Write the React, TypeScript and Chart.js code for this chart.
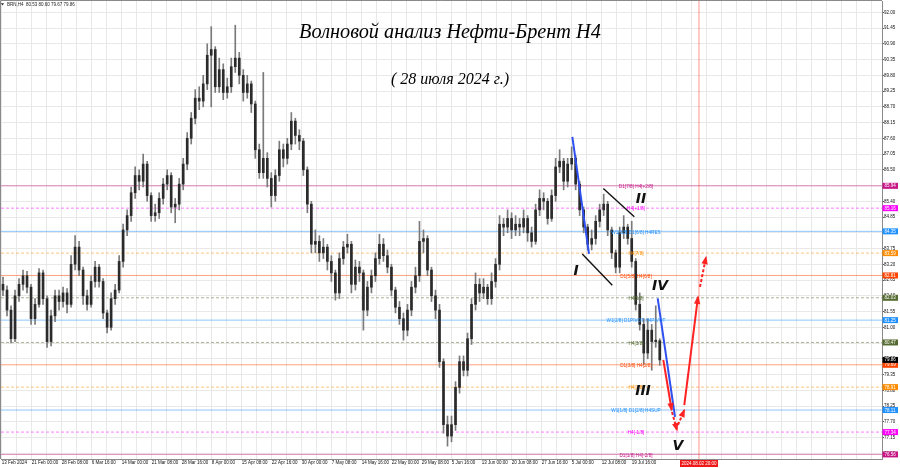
import React, { useEffect, useRef } from 'react';
import { Chart, registerables } from 'chart.js';

Chart.register(...registerables);

// ---------------- data (Brent H4 candles) ----------------
const candleOpen = [
  82.5, 82.3, 81.6, 80.6, 82.1, 82.5, 82.8, 82.4, 81.3, 81.8,
  82.9, 82.0, 80.5, 81.4, 82.1, 81.9, 82.2, 81.8, 83.2, 83.8,
  83.0, 82.1, 81.8, 82.6, 83.1, 82.6, 81.5, 81.0, 82.0, 82.3,
  83.3, 84.4, 84.9, 85.7, 86.3, 86.1, 86.7, 85.6, 84.9, 85.0,
  85.5, 86.0, 86.3, 85.2, 85.3, 86.0, 86.7, 87.6, 88.3, 89.0,
  88.9, 89.5, 90.5, 90.7, 89.4, 90.0, 89.2, 89.4, 90.1, 90.4,
  89.8, 89.2, 89.5, 88.8, 87.2, 86.4, 86.9, 86.2, 85.6, 86.3,
  87.2, 86.9, 87.4, 88.2, 87.7, 87.5, 86.5, 85.3, 83.9, 84.0,
  83.6, 83.8, 83.3, 82.9, 82.2, 83.4, 83.8, 83.9, 82.5, 83.1,
  82.9, 81.6, 82.4, 82.8, 83.4, 83.9, 83.5, 83.1, 82.3, 81.7,
  81.3, 80.9, 81.6, 82.4, 82.8, 84.0, 84.1, 83.0, 82.1, 81.6,
  79.8, 77.6, 77.2, 77.6, 78.9, 79.8, 79.5, 80.6, 81.8, 82.5,
  82.2, 82.4, 82.0, 82.6, 83.2, 84.6, 84.5, 84.8, 84.4, 84.6,
  84.5, 84.8, 84.3, 84.0, 85.1, 85.5, 85.4, 84.8, 85.6, 86.6,
  86.8, 86.1, 86.7, 86.9, 86.0, 85.1, 84.5, 83.9, 84.1, 84.7,
  85.1, 85.3, 84.4, 83.6, 83.1, 84.3, 84.5, 84.1, 83.3, 81.8,
  81.1, 80.1, 80.9, 80.5, 80.53,
];
const candleHigh = [
  82.75, 82.45, 81.75, 82.3, 82.7, 83.0, 82.95, 82.5, 82.0, 83.05,
  83.0, 82.1, 81.6, 82.3, 82.3, 82.4, 82.35, 83.5, 84.2, 84.0,
  83.1, 82.3, 82.8, 83.3, 83.2, 82.7, 81.6, 82.2, 82.5, 83.5,
  84.6, 85.1, 85.9, 86.6, 86.5, 87.05, 86.8, 85.7, 85.3, 85.7,
  86.2, 86.5, 86.4, 85.5, 86.2, 86.9, 87.8, 88.5, 89.3, 89.4,
  89.8, 90.9, 91.5, 90.8, 90.4, 90.2, 89.7, 90.4, 91.55, 90.6,
  90.0, 89.8, 89.6, 88.9, 87.4, 89.9, 87.1, 86.4, 86.5, 87.5,
  87.4, 87.6, 88.5, 88.3, 87.9, 87.6, 86.6, 85.4, 84.4, 84.2,
  84.1, 83.9, 83.5, 83.0, 83.6, 84.0, 84.25, 84.0, 83.35, 83.3,
  83.0, 82.6, 83.0, 83.6, 84.25, 84.1, 83.7, 83.2, 82.4, 81.9,
  81.5, 81.8, 82.6, 83.1, 84.7, 84.4, 84.2, 83.1, 82.3, 81.8,
  79.9, 77.9, 77.9, 79.1, 80.0, 80.0, 80.8, 82.0, 82.9, 82.7,
  82.7, 82.5, 82.9, 83.4, 84.9, 84.8, 85.1, 85.0, 84.9, 84.8,
  85.1, 84.9, 84.5, 85.3, 85.8, 85.7, 85.5, 85.8, 86.9, 87.2,
  86.9, 86.9, 87.3, 87.0, 86.1, 85.2, 84.6, 84.4, 84.9, 85.3,
  85.65, 85.4, 84.5, 83.7, 84.5, 84.9, 84.6, 84.7, 83.4, 82.2,
  81.3, 81.3, 81.1, 81.75, 80.6,
];
const candleLow = [
  82.1, 81.4, 80.45, 80.5, 81.9, 82.3, 82.2, 81.1, 81.1, 81.7,
  81.8, 80.3, 80.35, 81.2, 81.6, 81.7, 81.5, 81.7, 83.0, 82.8,
  81.8, 81.6, 81.7, 82.4, 82.4, 81.3, 80.8, 80.9, 81.8, 82.2,
  83.1, 84.2, 84.7, 85.5, 85.8, 85.9, 85.4, 84.7, 84.7, 84.8,
  85.3, 85.8, 85.0, 84.65, 85.1, 85.8, 86.5, 87.4, 88.1, 88.6,
  88.7, 89.3, 88.7, 89.2, 89.2, 88.95, 89.0, 89.2, 89.9, 89.5,
  88.9, 89.0, 88.5, 86.9, 86.2, 86.2, 85.9, 85.2, 85.4, 86.1,
  86.6, 86.7, 87.2, 87.4, 87.2, 86.3, 85.0, 83.6, 83.6, 83.3,
  83.4, 83.0, 82.6, 81.95, 82.0, 83.2, 83.6, 82.2, 82.3, 82.6,
  80.9, 81.4, 82.2, 82.6, 83.2, 83.3, 82.9, 82.1, 81.5, 81.1,
  80.55, 80.7, 81.4, 82.2, 82.6, 83.6, 82.8, 81.9, 81.3, 79.6,
  77.3, 76.85, 77.0, 77.4, 78.7, 79.3, 79.3, 80.4, 81.6, 81.9,
  82.0, 81.8, 81.8, 82.4, 83.0, 84.2, 84.3, 84.1, 84.2, 84.2,
  84.3, 84.0, 83.8, 83.9, 84.9, 85.1, 84.6, 84.7, 85.4, 86.4,
  85.8, 85.9, 86.5, 85.8, 84.9, 84.3, 83.7, 83.7, 83.9, 84.5,
  84.9, 84.2, 83.4, 82.9, 82.9, 84.1, 83.9, 83.1, 81.6, 80.9,
  79.7, 79.9, 79.5, 80.3, 79.67,
];
const candleClose = [
  82.3, 81.6, 80.6, 82.1, 82.5, 82.8, 82.4, 81.3, 81.8, 82.9,
  82.0, 80.5, 81.4, 82.1, 81.9, 82.2, 81.8, 83.2, 83.8, 83.0,
  82.1, 81.8, 82.6, 83.1, 82.6, 81.5, 81.0, 82.0, 82.3, 83.3,
  84.4, 84.9, 85.7, 86.3, 86.1, 86.7, 85.6, 84.9, 85.0, 85.5,
  86.0, 86.3, 85.2, 85.3, 86.0, 86.7, 87.6, 88.3, 89.0, 88.9,
  89.5, 90.5, 90.7, 89.4, 90.0, 89.2, 89.4, 90.1, 90.4, 89.8,
  89.2, 89.5, 88.8, 87.2, 86.4, 86.9, 86.2, 85.6, 86.3, 87.2,
  86.9, 87.4, 88.2, 87.7, 87.5, 86.5, 85.3, 83.9, 84.0, 83.6,
  83.8, 83.3, 82.9, 82.2, 83.4, 83.8, 83.9, 82.5, 83.1, 82.9,
  81.6, 82.4, 82.8, 83.4, 83.9, 83.5, 83.1, 82.3, 81.7, 81.3,
  80.9, 81.6, 82.4, 82.8, 84.0, 84.1, 83.0, 82.1, 81.6, 79.8,
  77.6, 77.2, 77.6, 78.9, 79.8, 79.5, 80.6, 81.8, 82.5, 82.2,
  82.4, 82.0, 82.6, 83.2, 84.6, 84.5, 84.8, 84.4, 84.6, 84.5,
  84.8, 84.3, 84.0, 85.1, 85.5, 85.4, 84.8, 85.6, 86.6, 86.8,
  86.1, 86.7, 86.9, 86.0, 85.1, 84.5, 83.9, 84.1, 84.7, 85.1,
  85.3, 84.4, 83.6, 83.1, 84.3, 84.5, 84.1, 83.3, 81.8, 81.1,
  80.1, 80.9, 80.5, 80.55, 79.86,
];
const totalSlots = 220; // candles + empty future slots

// time axis labels and their slot positions
const timeLabels = [
  '13 Feb 2024', '21 Feb 00:00', '28 Feb 08:00', '6 Mar 16:00', '14 Mar 00:00', '21 Mar 08:00',
  '28 Mar 16:00', '8 Apr 00:00', '15 Apr 08:00', '22 Apr 16:00', '30 Apr 00:00', '7 May 08:00',
  '14 May 16:00', '22 May 00:00', '29 May 08:00', '5 Jun 16:00', '13 Jun 00:00', '20 Jun 08:00',
  '27 Jun 16:00', '5 Jul 00:00', '12 Jul 08:00', '19 Jul 16:00',
];
const timeLabelPos = [
  -0.33, 7.16, 14.65, 22.14, 29.64, 37.13, 44.62, 52.11, 59.6, 67.09, 74.59,
  82.08, 89.57, 97.06, 104.55, 112.04, 119.54, 127.03, 134.52, 142.01, 149.5, 157.0,
];

// price axis
const priceMin = 76.4;
const priceMax = 92.395;
const priceTicks = [
  92.0, 91.45, 90.9, 90.35, 89.8, 89.25, 88.7, 88.15, 87.6, 87.05, 86.5, 85.95, 85.4, 84.85, 84.3,
  83.75, 83.2, 82.65, 82.1, 81.55, 81.0, 80.45, 79.9, 79.35, 78.8, 78.25, 77.7, 77.15, 76.6,
];

// Murrey levels
const levelValues = [85.94, 85.16, 84.35, 83.59, 82.81, 82.03, 81.25, 80.47, 79.69, 78.91, 78.11, 77.34, 76.56];
const levelNames = [
  'D1[7/8] H4[+2/8]', 'H4[+1/8]', 'W1[3/8] D1[6/8] H4RES', 'H4[7/8]', 'D1[5/8] H4[6/8]', 'H4[5/8]',
  'W1[2/8] D1PIVOT H4PIVOT', 'H4[3/8]', 'D1[3/8] H4[2/8]', 'H4[1/8]', 'W1[1/8] D1[2/8] H4SUP',
  'H4[-1/8]', 'D1[1/8] H4[-2/8]',
];
const levelColors = [
  '#C71585', '#FF00FF', '#1E90FF', '#FF8C00', '#FF4500', '#556B2F', '#1E90FF',
  '#556B2F', '#FF4500', '#FF8C00', '#1E90FF', '#FF00FF', '#C71585',
];
const levelDashed = [false, true, false, true, false, true, false, true, false, true, false, true, false];
const levelLabelX = 158.07;
const lastPrice = 79.86;

// wave markup
const waveBlue1 = [[142.17, 87.65], [146.34, 83.56]];
const waveBlackA = [[144.66, 83.56], [152.15, 82.47]];
const waveBlackB = [[149.91, 85.85], [157.65, 84.86]];
const waveBlue2 = [[163.49, 82.01], [167.81, 77.87]];
const forecastRed1 = [[164.89, 79.86], [166.98, 78.11]];
const forecastRed2 = [[167.06, 78.04], [168.31, 77.41]];
const forecastRed3 = [[168.56, 77.59], [170.13, 78.11]];
const forecastRed4 = [[170.13, 78.28], [173.55, 82.06]];
const forecastRed5 = [[174.05, 82.41], [175.55, 83.45]];
const waveNames = ['I', 'II', 'III', 'IV', 'V'];
const waveNameX = [143.09, 159.32, 159.82, 164.07, 168.56];
const waveNameY = [82.96, 85.48, 78.77, 82.44, 76.85];
const markerX = 173.8;
const markerLabel = '2024.08.02 20:00';

const titleText = 'Волновой анализ Нефти-Брент H4';
const subtitleText = '( 28 июля 2024 г.)';
const infoText = 'BRN,H4  80.53 80.60 79.67 79.86';

function withAlpha(hex: string, a: number) {
  const n = parseInt(hex.slice(1), 16);
  return `rgba(${(n >> 16) & 255},${(n >> 8) & 255},${n & 255},${a})`;
}

const SMALL = '"Liberation Sans", Arial, sans-serif';

export default function App() {
  const ref = useRef<HTMLCanvasElement>(null);

  useEffect(() => {
    const canvas = ref.current!;
    const xMin = -0.5;
    const xMax = totalSlots - 0.5;
    const datasets: any[] = [];

    levelValues.forEach((v, k) => {
      datasets.push({
        type: 'line',
        data: [{ x: xMin, y: v }, { x: xMax, y: v }],
        borderColor: withAlpha(levelColors[k], 0.5),
        borderWidth: 1,
        borderDash: levelDashed[k] ? [3, 2] : [],
        pointRadius: 0,
        order: 10,
      });
    });

    datasets.push({
      type: 'line',
      data: [{ x: markerX, y: priceMin }, { x: markerX, y: priceMax }],
      borderColor: 'rgba(255,70,50,0.55)',
      borderWidth: 1,
      pointRadius: 0,
      order: 9,
    });

    datasets.push({
      type: 'bar',
      data: candleLow.map((l, i) => ({ x: i, y: [l, candleHigh[i]] })),
      backgroundColor: '#7a7a7a',
      barThickness: 1,
      grouped: false,
      borderWidth: 0,
      order: 3,
    });
    datasets.push({
      type: 'bar',
      data: candleOpen.map((o, i) => ({ x: i, y: [Math.min(o, candleClose[i]), Math.max(o, candleClose[i])] })),
      backgroundColor: '#2b2b2b',
      barThickness: 2,
      minBarLength: 1,
      grouped: false,
      borderWidth: 0,
      order: 2,
    });

    const segs: [number[][], string, number, number[], boolean][] = [
      [waveBlue1, '#2f4ff0', 2, [], false],
      [waveBlackA, '#111111', 1.4, [], false],
      [waveBlackB, '#111111', 1.4, [], false],
      [waveBlue2, '#2f4ff0', 2, [], false],
      [forecastRed1, '#ff2222', 2, [], true],
      [forecastRed2, '#ff2222', 2, [3, 2], true],
      [forecastRed3, '#ff2222', 2, [3, 2], true],
      [forecastRed4, '#ff2222', 2, [], true],
      [forecastRed5, '#ff2222', 2, [3, 2], true],
    ];
    segs.forEach(([pts, color, w, dash, arrow]) => {
      datasets.push({
        type: 'line',
        data: pts.map((p) => ({ x: p[0], y: p[1] })),
        borderColor: color,
        borderWidth: w,
        borderDash: dash,
        pointRadius: 0,
        arrow,
        order: 1,
      });
    });

    const overlay = {
      id: 'overlay',
      afterDatasetsDraw(chart: any) {
        const { ctx } = chart;
        const xs = chart.scales.x;
        const ys = chart.scales.y;
        ctx.save();
        // arrow heads
        chart.data.datasets.forEach((ds: any, di: number) => {
          if (!ds.arrow) return;
          const pts = chart.getDatasetMeta(di).data;
          const p0 = pts[pts.length - 2];
          const p1 = pts[pts.length - 1];
          const ang = Math.atan2(p1.y - p0.y, p1.x - p0.x);
          const len = 7;
          const hw = 3.2;
          const c = Math.cos(ang);
          const s = Math.sin(ang);
          ctx.fillStyle = ds.borderColor;
          ctx.beginPath();
          ctx.moveTo(p1.x + c * 1.5, p1.y + s * 1.5);
          ctx.lineTo(p1.x - len * c + hw * s, p1.y - len * s - hw * c);
          ctx.lineTo(p1.x - len * c - hw * s, p1.y - len * s + hw * c);
          ctx.closePath();
          ctx.fill();
        });
        // level labels
        ctx.font = `4.7px ${SMALL}`;
        ctx.textAlign = 'center';
        ctx.textBaseline = 'middle';
        const lx = xs.getPixelForValue(levelLabelX);
        levelValues.forEach((v, k) => {
          ctx.fillStyle = levelColors[k];
          ctx.fillText(levelNames[k], lx, ys.getPixelForValue(v) + 1);
        });
        // wave numerals
        ctx.fillStyle = '#111';
        ctx.font = 'italic bold 14px "DejaVu Sans", sans-serif';
        waveNames.forEach((n, k) => {
          ctx.fillText(n, xs.getPixelForValue(waveNameX[k]), ys.getPixelForValue(waveNameY[k]));
        });
        ctx.restore();
      },
      afterDraw(chart: any) {
        const { ctx, chartArea: a } = chart;
        const xs = chart.scales.x;
        const ys = chart.scales.y;
        ctx.save();
        // frame left/top
        ctx.strokeStyle = '#8a8a8a';
        ctx.lineWidth = 1;
        ctx.beginPath();
        ctx.moveTo(a.left - 0.5, a.bottom);
        ctx.lineTo(a.left - 0.5, a.top - 0.5);
        ctx.lineTo(a.right, a.top - 0.5);
        ctx.stroke();
        // price boxes
        ctx.font = `4.5px ${SMALL}`;
        ctx.textAlign = 'left';
        ctx.textBaseline = 'middle';
        const box = (v: number, color: string) => {
          const py = ys.getPixelForValue(v);
          ctx.fillStyle = color;
          ctx.fillRect(a.right + 0.5, py - 3, 15.5, 6);
          ctx.fillStyle = '#fff';
          ctx.fillText(v.toFixed(2), a.right + 2.5, py + 0.3);
        };
        levelValues.forEach((v, k) => box(v, levelColors[k]));
        box(lastPrice, '#000000');
        // time marker box
        const mx = xs.getPixelForValue(markerX);
        ctx.fillStyle = '#f01818';
        ctx.fillRect(mx - 19, a.bottom + 1, 38, 7);
        ctx.fillStyle = '#fff';
        ctx.textAlign = 'center';
        ctx.fillText(markerLabel, mx, a.bottom + 4.6);
        // info text
        ctx.fillStyle = '#222';
        ctx.beginPath();
        ctx.moveTo(1, 3.2);
        ctx.lineTo(4, 3.2);
        ctx.lineTo(2.5, 5.6);
        ctx.closePath();
        ctx.fill();
        ctx.textAlign = 'left';
        ctx.fillText(infoText, 7, 4.6);
        // title
        ctx.fillStyle = '#000';
        ctx.textAlign = 'center';
        ctx.font = 'italic 20px "Liberation Serif", serif';
        const tw = ctx.measureText(titleText).width;
        const ts = (20 * 302) / tw;
        ctx.font = `italic ${ts}px "Liberation Serif", serif`;
        ctx.fillText(titleText, 450, 33);
        ctx.font = 'italic 20px "Liberation Serif", serif';
        const sw = ctx.measureText(subtitleText).width;
        ctx.font = `italic ${(20 * 118) / sw}px "Liberation Serif", serif`;
        ctx.fillText(subtitleText, 450, 80);
        ctx.restore();
      },
    };

    const chart = new Chart(canvas, {
      type: 'bar',
      data: { datasets },
      options: {
        responsive: false,
        animation: false,
        events: [],
        layout: { padding: { left: 1, top: 1, right: 0, bottom: 0 } },
        plugins: { legend: { display: false }, tooltip: { enabled: false }, title: { display: false } },
        scales: {
          x: {
            type: 'linear',
            min: xMin,
            max: xMax,
            offset: false,
            grid: { color: '#e8e8e8', offset: false, drawTicks: false },
            border: { display: true, color: '#8a8a8a' },
            ticks: {
              autoSkip: false,
              maxRotation: 0,
              minRotation: 0,
              align: 'start',
              padding: 1,
              color: '#111',
              font: { size: 4.5, family: SMALL },
              callback: (_v: any, i: number, ticks: any[]) => ticks[i].name,
            },
            afterBuildTicks: (scale: any) => {
              const t: any[] = [];
              const n = timeLabelPos.length;
              const half = (timeLabelPos[n - 1] - timeLabelPos[0]) / (2 * (n - 1));
              timeLabelPos.forEach((p, k) => {
                t.push({ value: p, name: timeLabels[k] });
                t.push({ value: p + half, name: '' });
              });
              for (let v = timeLabelPos[n - 1] + 2 * half; v < xMax; v += half) t.push({ value: v, name: '' });
              scale.ticks = t;
            },
            afterFit: (scale: any) => {
              scale.height = 9;
              scale.paddingLeft = 0;
              scale.paddingRight = 0;
            },
          },
          y: {
            type: 'linear',
            position: 'right',
            min: priceMin,
            max: priceMax,
            grid: { color: '#e8e8e8', drawTicks: true, tickLength: 2, tickColor: '#555' },
            border: { display: true, color: '#8a8a8a' },
            ticks: {
              autoSkip: false,
              padding: 0,
              color: '#111',
              font: { size: 4.5, family: SMALL },
              callback: (v: any) => Number(v).toFixed(2),
            },
            afterBuildTicks: (scale: any) => {
              scale.ticks = priceTicks.map((v) => ({ value: v }));
            },
            afterFit: (scale: any) => {
              scale.width = 18;
              scale.paddingTop = 0;
              scale.paddingBottom = 0;
            },
          },
        },
      } as any,
      plugins: [overlay],
    });
    return () => chart.destroy();
  }, []);

  return (
    <div style={{ position: 'fixed', left: 0, top: 0, width: 900, height: 468, background: '#fff' }}>
      <canvas ref={ref} width={900} height={468} style={{ display: 'block' }} />
    </div>
  );
}
